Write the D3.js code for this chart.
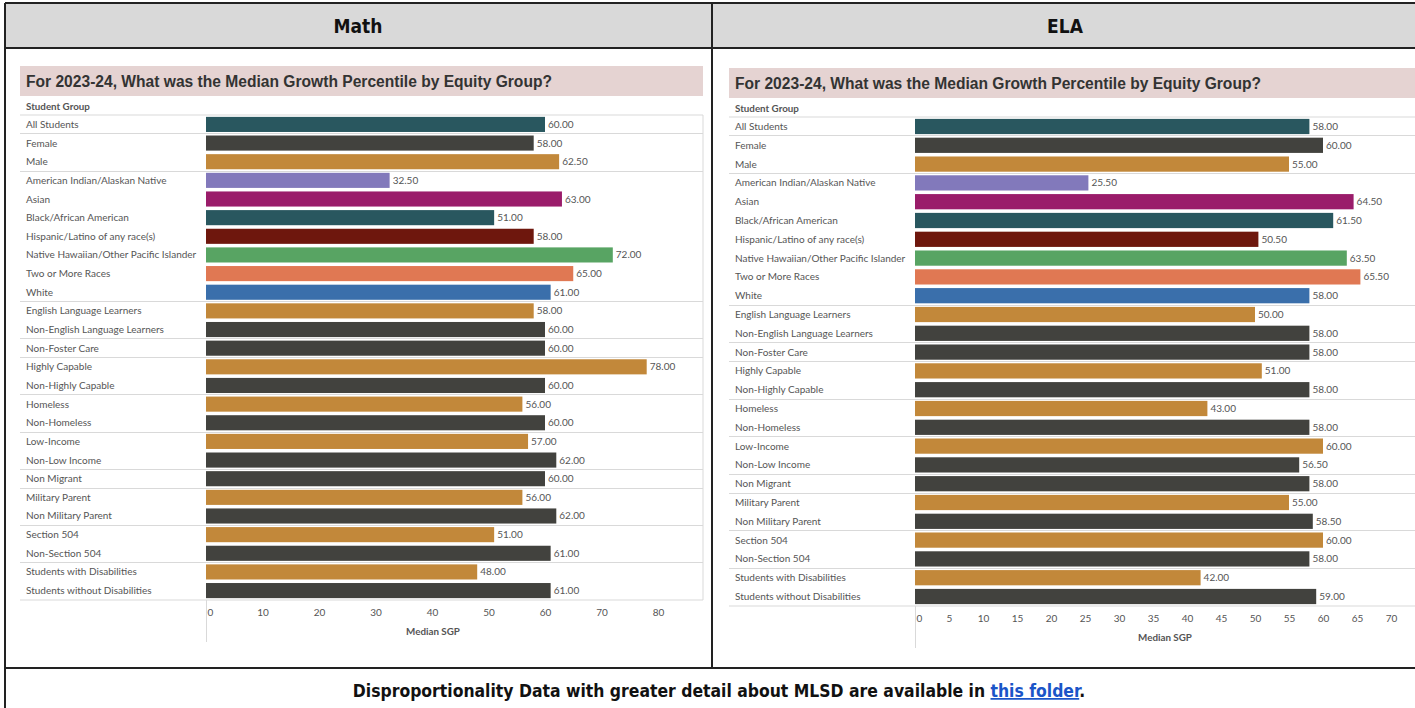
<!DOCTYPE html>
<html>
<head>
<meta charset="utf-8">
<script src="https://cdn.jsdelivr.net/npm/d3@7"></script>
<style>
  body { margin: 0; background: #fff; }
  svg { display: block; }
  .hdr { font-family: "DejaVu Sans Condensed", "DejaVu Sans", sans-serif; font-weight: bold; }
  .title { font-family: "Liberation Sans", Arial, sans-serif; font-weight: bold; fill: #333; }
  .lbl { font-family: Lato, "Open Sans", sans-serif; fill: #555; }
</style>
</head>
<body>
<div id="chart"></div>
<script>
// Student groups, top to bottom
const groups = [
  "All Students", "Female", "Male",
  "American Indian/Alaskan Native", "Asian", "Black/African American",
  "Hispanic/Latino of any race(s)", "Native Hawaiian/Other Pacific Islander",
  "Two or More Races", "White",
  "English Language Learners", "Non-English Language Learners",
  "Non-Foster Care",
  "Highly Capable", "Non-Highly Capable",
  "Homeless", "Non-Homeless",
  "Low-Income", "Non-Low Income",
  "Non Migrant",
  "Military Parent", "Non Military Parent",
  "Section 504", "Non-Section 504",
  "Students with Disabilities", "Students without Disabilities"
];
// a separator line is drawn above these rows
const groupStarts = ["Female", "American Indian/Alaskan Native", "English Language Learners",
  "Non-Foster Care", "Highly Capable", "Homeless", "Low-Income", "Non Migrant",
  "Military Parent", "Section 504", "Students with Disabilities"];

const mathValues = [60, 58, 62.5, 32.5, 63, 51, 58, 72, 65, 61, 58, 60, 60, 78, 60,
  56, 60, 57, 62, 60, 56, 62, 51, 61, 48, 61];
const elaValues = [58, 60, 55, 25.5, 64.5, 61.5, 50.5, 63.5, 65.5, 58, 50, 58, 58, 51, 58,
  43, 58, 60, 56.5, 58, 55, 58.5, 60, 58, 42, 59];

const mathTicks = [0, 10, 20, 30, 40, 50, 60, 70, 80];
const elaTicks = [0, 5, 10, 15, 20, 25, 30, 35, 40, 45, 50, 55, 60, 65, 70];

const gold = "#c2883a", dark = "#42423e";
const barColors = ["#29575f", dark, gold, "#8279bb", "#9a1c6a", "#29575f", "#6e170d",
  "#58a463", "#e07853", "#3a6fab", gold, dark, dark, gold, dark, gold, dark, gold, dark,
  dark, gold, dark, gold, dark, gold, dark];

const W = 1415, H = 708;
const svg = d3.select("#chart").append("svg").attr("width", W).attr("height", H);

// table frame
svg.append("rect").attr("x", 5).attr("y", 3).attr("width", W).attr("height", 45)
  .attr("fill", "#d9d9d9");
const frame = svg.append("g").attr("stroke", "#222").attr("stroke-width", 2);
frame.append("line").attr("x1", 5).attr("x2", W).attr("y1", 3).attr("y2", 3);
frame.append("line").attr("x1", 5).attr("x2", W).attr("y1", 48).attr("y2", 48);
frame.append("line").attr("x1", 5).attr("x2", W).attr("y1", 668).attr("y2", 668);
frame.append("line").attr("x1", 5).attr("x2", 5).attr("y1", 3).attr("y2", H);
frame.append("line").attr("x1", 712).attr("x2", 712).attr("y1", 3).attr("y2", 668);

svg.append("text").attr("class", "hdr").attr("x", 358).attr("y", 33)
  .attr("text-anchor", "middle").attr("font-size", 19).attr("fill", "#111").text("Math");
svg.append("text").attr("class", "hdr").attr("x", 1065).attr("y", 33)
  .attr("text-anchor", "middle").attr("font-size", 19).attr("fill", "#111").text("ELA");

const foot = svg.append("text").attr("class", "hdr").attr("x", 719).attr("y", 697)
  .attr("text-anchor", "middle").attr("font-size", 17.4).attr("fill", "#111");
foot.append("tspan").text("Disproportionality Data with greater detail about MLSD are available in ");
foot.append("tspan").attr("fill", "#1a55c8").attr("text-decoration", "underline").text("this folder");
foot.append("tspan").text(".");

function drawPanel(cfg) {
  const g = svg.append("g");
  // title band
  g.append("rect").attr("x", cfg.left).attr("y", cfg.titleY).attr("width", cfg.right - cfg.left)
    .attr("height", 30).attr("fill", "#e5d3d2");
  g.append("text").attr("class", "title").attr("x", cfg.left + 6).attr("y", cfg.titleY + 21)
    .attr("font-size", 15.6).text("For 2023-24, What was the Median Growth Percentile by Equity Group?");
  g.append("text").attr("class", "lbl").attr("x", cfg.left + 6).attr("y", cfg.top - 5)
    .attr("font-size", 9.8).attr("font-weight", "bold").attr("fill", "#333").text("Student Group");

  const y = d3.scaleBand().domain(groups).range([cfg.top, cfg.bottom]).paddingInner(0.19).paddingOuter(0.1);
  const x = d3.scaleLinear().domain([0, cfg.max]).range([cfg.x0, cfg.x0 + cfg.pxPerUnit * cfg.max]);
  const step = y.step();

  // separators
  const sep = g.append("g").attr("stroke", "#d9d9d9").attr("stroke-width", 1);
  sep.append("line").attr("x1", cfg.left).attr("x2", cfg.right).attr("y1", cfg.top).attr("y2", cfg.top);
  sep.append("line").attr("x1", cfg.left).attr("x2", cfg.right).attr("y1", cfg.bottom).attr("y2", cfg.bottom);
  sep.selectAll("line.s").data(groupStarts).join("line").attr("class", "s")
    .attr("x1", cfg.left).attr("x2", cfg.right)
    .attr("y1", d => Math.round(y(d) - step * 0.12) + 0.5)
    .attr("y2", d => Math.round(y(d) - step * 0.12) + 0.5);
  if (cfg.rightBorder) {
    sep.append("line").attr("x1", cfg.right).attr("x2", cfg.right).attr("y1", cfg.top).attr("y2", cfg.bottom);
  }
  sep.append("line").attr("x1", cfg.x0 + 0.5).attr("x2", cfg.x0 + 0.5)
    .attr("y1", cfg.bottom).attr("y2", cfg.bottom + 42);

  // row labels
  g.append("g").selectAll("text").data(groups).join("text").attr("class", "lbl")
    .attr("x", cfg.left + 6).attr("y", d => y(d) + y.bandwidth() / 2 + 3.5)
    .attr("font-size", 10).attr("fill", "#666").text(d => d);

  const data = groups.map((name, i) => ({ name, value: cfg.values[i], color: barColors[i] }));
  g.append("g").selectAll("rect").data(data).join("rect")
    .attr("x", x(0)).attr("y", d => y(d.name))
    .attr("width", d => x(d.value) - x(0)).attr("height", y.bandwidth())
    .attr("fill", d => d.color);
  g.append("g").selectAll("text").data(data).join("text").attr("class", "lbl")
    .attr("x", d => x(d.value) + 3).attr("y", d => y(d.name) + y.bandwidth() / 2 + 3.5)
    .attr("font-size", 10).attr("fill", "#444").text(d => d.value.toFixed(2));

  // axis
  const axis = g.append("g").attr("transform", `translate(0,${cfg.bottom})`)
    .call(d3.axisBottom(x).tickValues(cfg.ticks).tickSize(0).tickPadding(9));
  axis.select(".domain").remove();
  axis.selectAll("text").attr("class", "lbl").attr("font-size", 10).attr("fill", "#999");
  axis.select(".tick text").attr("text-anchor", "start").attr("dx", 1);
  g.append("text").attr("class", "lbl").attr("x", cfg.labelX).attr("y", cfg.bottom + 35)
    .attr("text-anchor", "middle").attr("font-size", 9.8).attr("font-weight", "bold")
    .attr("fill", "#333").text("Median SGP");
}

drawPanel({ left: 20, right: 703, titleY: 66, top: 115, bottom: 600, x0: 206,
  pxPerUnit: 5.65, max: 88, ticks: mathTicks, values: mathValues, labelX: 433, rightBorder: true });
drawPanel({ left: 729, right: W, titleY: 68, top: 117, bottom: 606, x0: 915,
  pxPerUnit: 6.8, max: 74, ticks: elaTicks, values: elaValues, labelX: 1165, rightBorder: false });
</script>
</body>
</html>
